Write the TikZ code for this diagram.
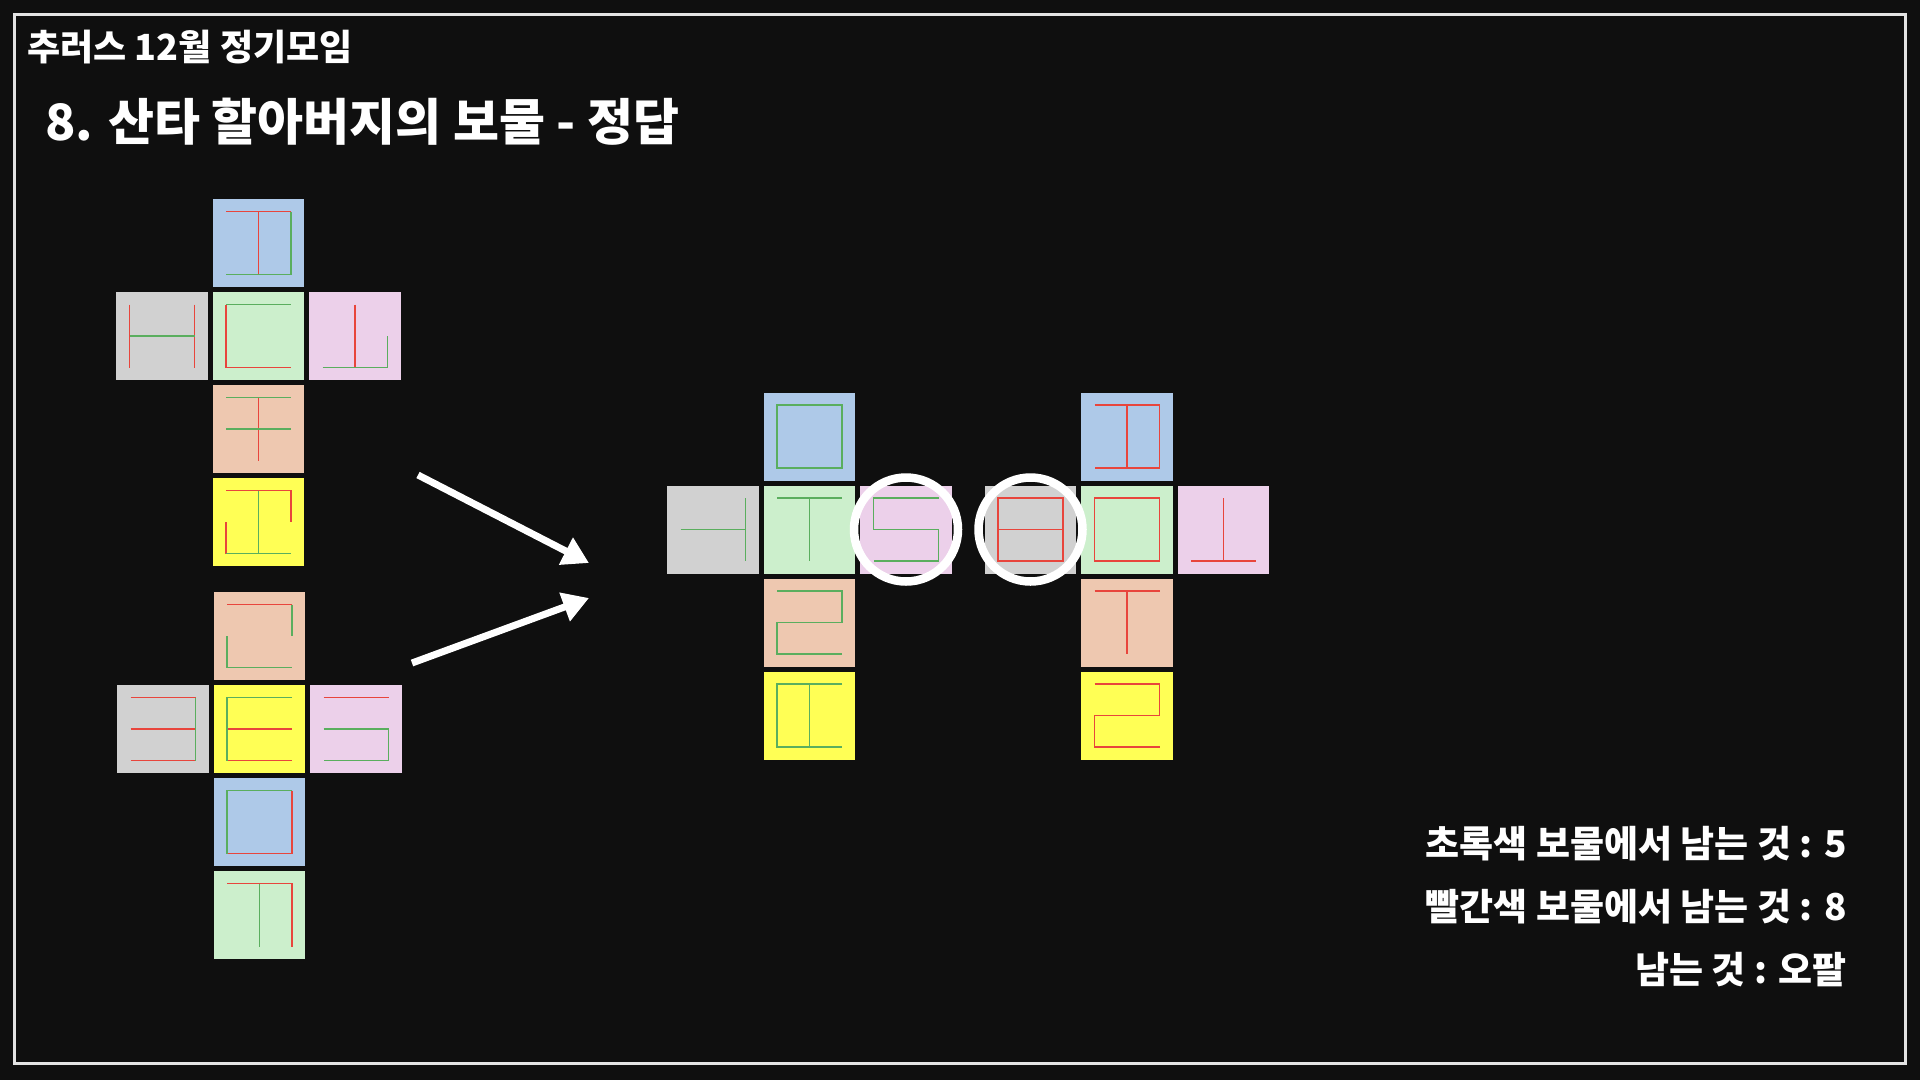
\documentclass[tikz,border=0pt]{standalone}
\usepackage{fontspec}
\usepackage{tikz}
\usetikzlibrary{arrows.meta,positioning}
\newfontfamily\krfont{Noto Sans CJK KR}
\definecolor{PageBlack}{HTML}{0F0F0F}
\definecolor{FrameGray}{HTML}{E4E4E4}
\definecolor{CellBlue}{HTML}{AEC9E8}
\definecolor{CellGray}{HTML}{D1D1D1}
\definecolor{CellGreen}{HTML}{CCEFCC}
\definecolor{CellPink}{HTML}{ECD0EA}
\definecolor{CellPeach}{HTML}{EEC8B0}
\definecolor{CellYellow}{HTML}{FFFF55}
\definecolor{InkRed}{HTML}{E8453C}
\definecolor{InkGreen}{HTML}{5AAE5E}

% red strokes, then green strokes, drawn in the inner box of a cell
\newcommand{\glyphlines}[3]{%
  \begin{scope}[shift={(#1.center)},x=32.5pt,y=31.5pt]
    \draw[redink] #2;
    \draw[greenink] #3;
  \end{scope}}

\begin{document}
\begin{tikzpicture}[
    x=1pt,y=-1pt,
    node distance=5pt and 5pt,
    cell/.style={minimum width=91.5pt,minimum height=88pt,inner sep=0pt,outer sep=0pt},
    redink/.style={draw=InkRed,line width=1.8pt},
    greenink/.style={draw=InkGreen,line width=1.8pt},
    ring/.style={draw=white,line width=8.5pt},
    arrow/.style={-{Triangle[length=26pt,width=29pt]},line width=7pt,color=white},
    label/.style={text=white,inner sep=0pt,font=\krfont\bfseries}
  ]
    \fill[PageBlack] (0,0) rectangle (1920,1080);
    \draw[FrameGray,line width=3pt] (14.7,14.7) rectangle (1905,1063);

    \node[label,anchor=west,font=\krfont\bfseries\fontsize{36}{42}\selectfont] (club) at (27,47) {추러스 12월 정기모임};
    \node[label,anchor=west,font=\krfont\bfseries\fontsize{50}{58}\selectfont] (title) at (45,122) {8. 산타 할아버지의 보물 - 정답};

    % first net
    \node[cell,fill=CellGreen] (aMid) at (258.5,336) {};
    \node[cell,fill=CellBlue,above=of aMid] (aTop) {};
    \node[cell,fill=CellGray,left=of aMid] (aLeft) {};
    \node[cell,fill=CellPink,right=of aMid] (aRight) {};
    \node[cell,fill=CellPeach,below=of aMid] (aDown) {};
    \node[cell,fill=CellYellow,below=of aDown] (aBase) {};
    \glyphlines{aTop}{(-1,1)--(1,1) (0,1)--(0,-1)}{(1,1)--(1,-1)--(-1,-1)}
    \glyphlines{aLeft}{(-1,1)--(-1,-1) (1,1)--(1,-1)}{(-1,0)--(1,0)}
    \glyphlines{aMid}{(-1,1)--(-1,-1)--(1,-1)}{(-1,1)--(1,1)}
    \glyphlines{aRight}{(0,1)--(0,-1)}{(-1,-1)--(1,-1)--(1,0)}
    \glyphlines{aDown}{(0,1)--(0,-1)}{(-1,1)--(1,1) (-1,0)--(1,0)}
    \glyphlines{aBase}{(-1,1)--(1,1)--(1,0) (-1,0)--(-1,-1)}{(0,1)--(0,-1) (-1,-1)--(1,-1)}

    % second net
    \node[cell,fill=CellYellow] (bMid) at (259.5,729) {};
    \node[cell,fill=CellPeach,above=of bMid] (bTop) {};
    \node[cell,fill=CellGray,left=of bMid] (bLeft) {};
    \node[cell,fill=CellPink,right=of bMid] (bRight) {};
    \node[cell,fill=CellBlue,below=of bMid] (bDown) {};
    \node[cell,fill=CellGreen,below=of bDown] (bBase) {};
    \glyphlines{bTop}{(-1,1)--(1,1)}{(1,1)--(1,0) (-1,0)--(-1,-1)--(1,-1)}
    \glyphlines{bLeft}{(-1,1)--(1,1) (-1,0)--(1,0) (-1,-1)--(1,-1)}{(1,1)--(1,-1)}
    \glyphlines{bMid}{(-1,0)--(1,0) (-1,-1)--(1,-1)}{(1,1)--(-1,1)--(-1,-1)}
    \glyphlines{bRight}{(-1,1)--(1,1)}{(-1,0)--(1,0)--(1,-1)--(-1,-1)}
    \glyphlines{bDown}{(1,1)--(1,-1)--(-1,-1)}{(1,1)--(-1,1)--(-1,-1)}
    \glyphlines{bBase}{(-1,1)--(1,1)--(1,-1)}{(0,1)--(0,-1)}

    % green treasure
    \node[cell,fill=CellGreen] (gMid) at (809.5,529.5) {};
    \node[cell,fill=CellBlue,above=of gMid] (gTop) {};
    \node[cell,fill=CellGray,left=of gMid] (gLeft) {};
    \node[cell,fill=CellPink,right=of gMid] (gRight) {};
    \node[cell,fill=CellPeach,below=of gMid] (gDown) {};
    \node[cell,fill=CellYellow,below=of gDown] (gBase) {};
    \glyphlines{gTop}{}{(-1,1) rectangle (1,-1)}
    \glyphlines{gLeft}{}{(-1,0)--(1,0) (1,1)--(1,-1)}
    \glyphlines{gMid}{}{(-1,1)--(1,1) (0,1)--(0,-1)}
    \glyphlines{gRight}{}{(1,1)--(-1,1)--(-1,0)--(1,0)--(1,-1)--(-1,-1)}
    \glyphlines{gDown}{}{(-1,1)--(1,1)--(1,0)--(-1,0)--(-1,-1)--(1,-1)}
    \glyphlines{gBase}{}{(1,1)--(-1,1)--(-1,-1)--(1,-1) (0,1)--(0,-1)}

    % red treasure
    \node[cell,fill=CellGreen] (rMid) at (1127,529.5) {};
    \node[cell,fill=CellBlue,above=of rMid] (rTop) {};
    \node[cell,fill=CellGray,left=of rMid] (rLeft) {};
    \node[cell,fill=CellPink,right=of rMid] (rRight) {};
    \node[cell,fill=CellPeach,below=of rMid] (rDown) {};
    \node[cell,fill=CellYellow,below=of rDown] (rBase) {};
    \glyphlines{rTop}{(-1,1)--(1,1)--(1,-1)--(-1,-1) (0,1)--(0,-1)}{}
    \glyphlines{rLeft}{(-1,1) rectangle (1,-1) (-1,0)--(1,0)}{}
    \glyphlines{rMid}{(-1,1) rectangle (1,-1)}{}
    \glyphlines{rRight}{(0,1)--(0,-1) (-1,-1)--(1,-1)}{}
    \glyphlines{rDown}{(-1,1)--(1,1) (0,1)--(0,-1)}{}
    \glyphlines{rBase}{(-1,1)--(1,1)--(1,0)--(-1,0)--(-1,-1)--(1,-1)}{}

    \draw[ring] (gRight.center) circle[radius=52];
    \draw[ring] (rLeft.center) circle[radius=52];

    \coordinate (fromA) at (418,475);
    \coordinate (fromB) at (412,663);
    \coordinate (toA) at (589,563);
    \coordinate (toB) at (589,598);
    \draw[arrow] (fromA) -- (toA);
    \draw[arrow] (fromB) -- (toB);

    \node[label,anchor=east,font=\krfont\bfseries\fontsize{37}{44}\selectfont] (greenleft) at (1847,844) {초록색 보물에서 남는 것 : 5};
    \node[label,anchor=east,font=\krfont\bfseries\fontsize{37}{44}\selectfont] (redleft) at (1847,907) {빨간색 보물에서 남는 것 : 8};
    \node[label,anchor=east,font=\krfont\bfseries\fontsize{37}{44}\selectfont] (answer) at (1847,970) {남는 것 : 오팔};
  \end{tikzpicture}
\end{document}
